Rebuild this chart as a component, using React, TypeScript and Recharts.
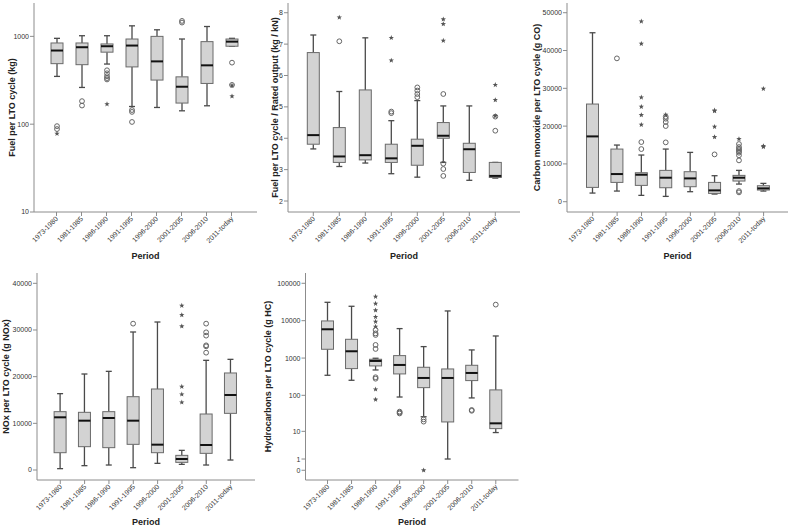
import { Bar, ComposedChart, XAxis, YAxis } from 'recharts';

const periods = ['1973-1980', '1981-1985', '1986-1990', '1991-1995', '1996-2000', '2001-2005', '2006-2010', '2011-today'];

// each row: [low whisker, Q1, median, Q3, high whisker]
const fuelStats = [
  [350, 489, 690, 841, 950],
  [262, 476, 752, 841, 1017],
  [484, 661, 772, 820, 1017],
  [159, 449, 786, 933, 1318],
  [155, 318, 519, 1000, 1188],
  [142, 174, 267, 346, 933],
  [162, 291, 468, 871, 1295],
  [772, 772, 871, 933, 950],
];
const fuelCircles = [[95, 88], [183, 163], [411, 380, 352, 335, 323], [145, 138, 106], [], [1500, 1436], [], [502, 280]];
const fuelStars = [[78], [], [169], [], [], [], [], [276, 208]];
const fuelTicks = [10, 100, 1000];

const ratedStats = [
  [3.66, 3.81, 4.1, 6.73, 7.29],
  [3.1, 3.23, 3.42, 4.34, 5.49],
  [3.21, 3.31, 3.46, 5.54, 7.2],
  [2.87, 3.23, 3.36, 3.81, 4.56],
  [2.76, 3.14, 3.76, 3.97, 5.2],
  [3.23, 4.0, 4.08, 4.5, 5.03],
  [2.66, 2.91, 3.65, 3.84, 5.03],
  [2.73, 2.75, 2.8, 3.23, 3.23],
];
const ratedCircles = [[], [7.09], [], [4.85, 4.8], [5.62, 5.52, 5.41, 5.31], [5.41, 3.19, 3.02, 2.8], [], [4.69, 4.24]];
const ratedStars = [[], [7.85], [], [7.2, 6.48], [], [7.79, 7.64, 7.11], [], [5.7, 5.22, 4.71]];
const ratedTicks = [2, 3, 4, 5, 6, 7, 8];

const coStats = [
  [2290, 3790, 17280, 25840, 44700],
  [2820, 5110, 7320, 13930, 14990],
  [1680, 4320, 7140, 7670, 12350],
  [1410, 3700, 6350, 8290, 13930],
  [2650, 3970, 6170, 7940, 13050],
  [2030, 2200, 3000, 5110, 6880],
  [4670, 5470, 6350, 6970, 8290],
  [2820, 3090, 3530, 4230, 4850],
];
const coCircles = [[], [37920], [15780, 13930], [15700, 20020, 21080, 21960, 22490], [], [12520],
  [15260, 14460, 14000, 13670, 13300, 12960, 12260, 10930, 2820, 2470], []];
const coStars = [[], [], [47710, 41800, 27600, 25130, 22930, 20370], [23020], [], [24160, 24000, 19840, 17110], [16580], [29890, 14730, 14500]];
const coTicks = [0, 10000, 20000, 30000, 40000, 50000];

const noxStats = [
  [290, 3710, 11290, 12500, 16360],
  [930, 5000, 10570, 12360, 20570],
  [1070, 4790, 11140, 12500, 21140],
  [500, 5500, 10570, 15710, 29570],
  [1430, 3710, 5430, 17360, 31710],
  [1210, 1640, 2360, 3140, 4210],
  [1070, 3570, 5360, 12000, 23500],
  [2140, 12140, 16070, 20790, 23710],
];
const noxCircles = [[], [], [], [31360], [], [], [31360, 29500, 28790, 26710, 26500, 25140], []];
const noxStars = [[], [], [], [], [], [35210, 33210, 30790, 17860, 16210, 14500], [], []];
const noxTicks = [0, 10000, 20000, 30000, 40000];

const hcStats = [
  [346, 1720, 5890, 9840, 31000],
  [254, 522, 1520, 3180, 24270],
  [480, 616, 837, 929, 988],
  [90, 376, 654, 1163, 6140],
  [26, 161, 293, 567, 2025],
  [1, 18.6, 293, 511, 18200],
  [85, 249, 399, 641, 1650],
  [9.2, 12, 17, 140, 3900],
];
const hcCircles = [[], [], [306, 280, 5650, 4570, 4150, 2244, 1755], [36, 34, 32], [22, 19], [], [40, 38], [26900]];
const hcStars = [[], [], [44000, 28600, 18970, 12590, 9440, 6930, 145, 77], [], [0], [], [], []];
const hcTicks = [0, 1, 10, 100, 1000, 10000, 100000];

const FRAME = '#8c8c8c';
const FONT = 'Arial, "Liberation Sans", sans-serif';

const linear = (v: number) => v;
const log10 = (v: number) => Math.log10(v);
const log1p = (v: number) => Math.log10(v + 1);

const starPoints = (cx: number, cy: number, r: number) => {
  const pts: string[] = [];
  for (let i = 0; i < 10; i++) {
    const rr = i % 2 === 0 ? r : r * 0.42;
    const a = -Math.PI / 2 + (i * Math.PI) / 5;
    pts.push(`${cx + rr * Math.cos(a)},${cy + rr * Math.sin(a)}`);
  }
  return pts.join(' ');
};

// range bar [lo, hi] comes from the y scale; the other stats are placed on the same (linear) scale
const BoxShape = (props: any) => {
  const { x, y, width, height, payload } = props;
  const top = Math.min(y, y + height);
  const bot = Math.max(y, y + height);
  const { lo, q1, med, q3, hi, circles, stars } = payload;
  const py = (v: number) => bot + ((v - lo) / (hi - lo)) * (top - bot);
  const cx = x + width / 2;
  const cap = width / 4;
  return (
    <g>
      <line x1={cx} x2={cx} y1={py(hi)} y2={py(q3)} stroke="#4a4a4a" strokeWidth={1.3} />
      <line x1={cx} x2={cx} y1={py(q1)} y2={py(lo)} stroke="#4a4a4a" strokeWidth={1.3} />
      <line x1={cx - cap} x2={cx + cap} y1={py(hi)} y2={py(hi)} stroke="#4a4a4a" strokeWidth={1.3} />
      <line x1={cx - cap} x2={cx + cap} y1={py(lo)} y2={py(lo)} stroke="#4a4a4a" strokeWidth={1.3} />
      <rect x={x} y={py(q3)} width={width} height={Math.max(py(q1) - py(q3), 0.5)} fill="#d3d3d3" stroke="#6a6a6a" strokeWidth={1} />
      <line x1={x} x2={x + width} y1={py(med)} y2={py(med)} stroke="#111" strokeWidth={2} />
      {circles.map((v: number, i: number) => (
        <circle key={`c${i}`} cx={cx} cy={py(v)} r={2.4} fill="none" stroke="#666" strokeWidth={1} />
      ))}
      {stars.map((v: number, i: number) => (
        <polygon key={`s${i}`} points={starPoints(cx, py(v), 2.8)} fill="#555" />
      ))}
    </g>
  );
};

const PeriodTick = (props: any) => {
  const { x, y, payload } = props;
  return (
    <g transform={`translate(${x},${y})`}>
      <text x={0} y={0} dy={3} textAnchor="end" transform="rotate(-45)" fontSize={7} fill="#333">
        {payload.value}
      </text>
    </g>
  );
};

type PanelProps = {
  title: string;
  stats: number[][];
  circles: number[][];
  stars: number[][];
  ticks: number[];
  tf: (v: number) => number;
  domain: [number, number];
  chartLeft: number;
  frameLeft: number;
  frameTop: number;
  frameW: number;
  frameH: number;
  axisH: number;
  titleOffset: number;
  padL: number;
  padR: number;
};

const BoxPanel = (p: PanelProps) => {
  const rows = periods.map((period, i) => ({
    period,
    lo: p.tf(p.stats[i][0]),
    q1: p.tf(p.stats[i][1]),
    med: p.tf(p.stats[i][2]),
    q3: p.tf(p.stats[i][3]),
    hi: p.tf(p.stats[i][4]),
    circles: p.circles[i].map(p.tf),
    stars: p.stars[i].map(p.tf),
  }));
  const yw = p.frameLeft - p.chartLeft;
  const mt = 3;
  const mr = 1;
  const tickVals = p.ticks.map(p.tf);
  const label = (v: number) => {
    const idx = tickVals.findIndex((t) => Math.abs(t - v) < 1e-9);
    return idx >= 0 ? String(p.ticks[idx]) : '';
  };
  return (
    <div style={{ position: 'absolute', left: p.chartLeft, top: p.frameTop - mt }}>
      <ComposedChart
        width={yw + p.frameW + mr}
        height={mt + p.frameH + p.axisH}
        data={rows}
        margin={{ top: mt, right: mr, bottom: 0, left: 0 }}
      >
        <XAxis
          dataKey="period"
          interval={0}
          padding={{ left: p.padL, right: p.padR }}
          height={p.axisH}
          tickSize={4}
          tickMargin={1}
          tick={<PeriodTick />}
          stroke={FRAME}
          label={{ value: 'Period', position: 'insideBottom', offset: 1, fontSize: 9, fontWeight: 'bold', fill: '#222' }}
        />
        <XAxis xAxisId="top" orientation="top" dataKey="period" height={0} tick={false} tickLine={false} stroke={FRAME} />
        <YAxis
          type="number"
          domain={p.domain}
          allowDataOverflow
          ticks={tickVals}
          interval={0}
          width={yw}
          tickSize={4}
          tickMargin={1}
          tickFormatter={label}
          tick={{ fontSize: 7, fill: '#333' }}
          stroke={FRAME}
          label={{
            value: p.title,
            angle: -90,
            position: 'insideLeft',
            offset: p.titleOffset,
            fontSize: 9,
            fontWeight: 'bold',
            fill: '#222',
            style: { textAnchor: 'middle' },
          }}
        />
        <YAxis yAxisId="right" orientation="right" domain={[0, 1]} width={0} tick={false} tickLine={false} stroke={FRAME} />
        <Bar dataKey={(r: any) => [r.lo, r.hi]} barSize={12} isAnimationActive={false} shape={<BoxShape />} />
      </ComposedChart>
    </div>
  );
};

export default function App() {
  return (
    <div style={{ position: 'absolute', left: 0, top: 0, width: 789, height: 527, fontFamily: FONT, background: '#fff' }}>
      <BoxPanel title="Fuel per LTO cycle (kg)" stats={fuelStats} circles={fuelCircles} stars={fuelStars}
        ticks={fuelTicks} tf={log10} domain={[1, 3.38]}
        chartLeft={0} frameLeft={34} frameTop={3} frameW={223} frameH={209} axisH={48} titleOffset={12} padL={10} padR={13} />
      <BoxPanel title="Fuel per LTO cycle / Rated output (kg / kN)" stats={ratedStats} circles={ratedCircles} stars={ratedStars}
        ticks={ratedTicks} tf={linear} domain={[1.65, 8.31]}
        chartLeft={265} frameLeft={288} frameTop={3} frameW={232} frameH={209} axisH={48} titleOffset={10} padL={12.3} padR={11.7} />
      <BoxPanel title="Carbon monoxide per LTO cycle (g CO)" stats={coStats} circles={coCircles} stars={coStars}
        ticks={coTicks} tf={linear} domain={[-2720, 52570]}
        chartLeft={528} frameLeft={567} frameTop={3} frameW={221} frameH={209} axisH={48} titleOffset={8.7} padL={13.5} padR={12.2} />
      <BoxPanel title="NOx per LTO cycle (g NOx)" stats={noxStats} circles={noxCircles} stars={noxStars}
        ticks={noxTicks} tf={linear} domain={[-2140, 42210]}
        chartLeft={0} frameLeft={37} frameTop={273} frameW={218} frameH={207} axisH={46} titleOffset={6} padL={11.1} padR={12.2} />
      <BoxPanel title="Hydrocarbons per LTO cycle (g HC)" stats={hcStats} circles={hcCircles} stars={hcStars}
        ticks={hcTicks} tf={log1p} domain={[-0.26, 5.275]}
        chartLeft={260} frameLeft={305.5} frameTop={273} frameW={213} frameH={207} axisH={46} titleOffset={8.3} padL={10} padR={10.7} />
    </div>
  );
}
